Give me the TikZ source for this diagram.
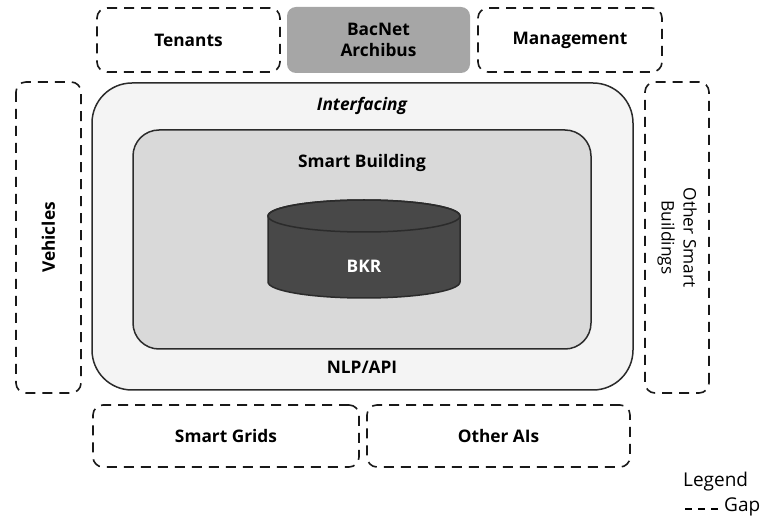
\documentclass[tikz,border=0pt]{standalone}
\usepackage{fontspec}
\setmainfont{Open Sans}
\definecolor{ifacefill}{HTML}{F4F4F4}
\definecolor{sbfill}{HTML}{D9D9D9}
\definecolor{bacfill}{HTML}{A6A6A6}
\definecolor{bkrfill}{HTML}{484848}
\definecolor{edge}{HTML}{2B2B2B}

\tikzset{
  lbl/.style={font=\fontsize{17.3}{21}\selectfont\bfseries, align=center},
  gapbox/.style={lbl, draw=black!90, line width=1.6pt, dash pattern=on 10pt off 7pt,
    rounded corners=10pt, inner sep=0pt},
  solidbox/.style={draw=edge, line width=1.5pt, inner sep=0pt},
  legendtxt/.style={font=\fontsize{19}{22}\selectfont, anchor=west, inner sep=0pt}
}

\begin{document}
\begin{tikzpicture}[x=1pt, y=1pt]
      \useasboundingbox (0,0) rectangle (764,-521);

      % top row
      \node[gapbox, minimum width=183pt, minimum height=64pt] (tenants) at (188.5,-40) {Tenants};
      \node[lbl, fill=bacfill, rounded corners=9pt, minimum width=183pt, minimum height=66pt] (bacnet) at (378.5,-40) {BacNet\\Archibus};
      \node[gapbox, minimum width=184pt, minimum height=64pt] (mgmt) at (570,-40) {Management};

      % sides
      \node[gapbox, rotate=90, minimum width=311pt, minimum height=65pt] (vehicles) at (48.5,-237.5) {Vehicles};
      \node[gapbox, rotate=-90, font=\fontsize{17.3}{22}\selectfont, minimum width=311pt, minimum height=64pt] (othersb) at (677,-237.5) {Other Smart\\Buildings};

      % interfacing layer
      \node[solidbox, fill=ifacefill, rounded corners=40pt, minimum width=541pt, minimum height=307pt] (iface) at (362.5,-236.5) {};
      \node[lbl, font=\fontsize{17.3}{21}\selectfont\bfseries\itshape] (ifacetxt) at (362,-106) {Interfacing};
      \node[lbl] (nlp) at (362,-367) {NLP/API};

      % smart building
      \node[solidbox, fill=sbfill, rounded corners=26pt, minimum width=458pt, minimum height=219pt] (sb) at (362,-239.5) {};
      \node[lbl] (sbtxt) at (362,-163) {Smart Building};

      % BKR store
      \filldraw[fill=bkrfill, draw=edge, line width=1.5pt]
        (268,-216) -- (268,-282) arc (180:360:96 and 16) -- (460,-216) arc (0:180:96 and 16) -- cycle;
      \draw[edge, line width=1.5pt] (364,-216) ellipse (96 and 16);
      \node[lbl, text=white] (bkr) at (364,-266) {BKR};

      % bottom row
      \node[gapbox, minimum width=266pt, minimum height=62pt] (grids) at (226,-436) {Smart Grids};
      \node[gapbox, minimum width=263pt, minimum height=62pt] (otherai) at (498.5,-436) {Other AIs};

      % legend
      \node[legendtxt] (legend) at (683,-482) {Legend};
      \node[legendtxt] (gap) at (724,-507) {Gap};
      \coordinate (dashstart) at (685,-509);
      \draw[line width=1.2pt, dash pattern=on 7pt off 6pt, shorten >=5pt] (dashstart) -- (gap.west |- dashstart);
\end{tikzpicture}
\end{document}
